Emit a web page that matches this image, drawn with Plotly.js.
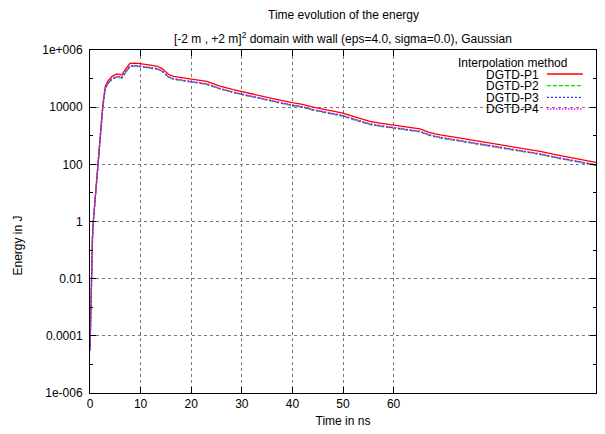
<!DOCTYPE html>
<html>
<head>
<meta charset="utf-8">
<script src="https://cdn.plot.ly/plotly-3.0.1.min.js"></script>
<style>html,body{margin:0;padding:0;background:#fff;}#chart{width:605px;height:434px;}</style>
</head>
<body>
<div id="chart"></div>
<script>
// Time in ns
const time = [0, 0.15, 0.33, 0.5, 0.65, 1.0, 1.3, 1.64, 2.0, 2.5, 3.0, 3.5, 4.3, 5.3, 6.3, 6.9, 7.9, 9.0, 9.9, 11.5, 13.2, 14.2, 15.5, 16.5, 17.8, 20.4, 23.1, 25.7, 28.3, 31, 33.6, 35.6, 37.5, 40, 42, 44.1, 47, 50, 52.5, 55.3, 57.3, 60, 62.5, 65.2, 67, 69.2, 72, 75.1, 78, 81, 83, 85.6, 89, 92.2, 96, 100];

// Energy in J for each interpolation method
const energyP1 = [3.2e-5, 1.6e-3, 0.063, 0.32, 1.0, 6.3, 25, 100, 794, 10000, 52500, 79400, 117500, 144500, 134900, 199500, 338800, 346700, 331100, 309000, 275400, 229100, 141300, 120200, 112200, 93300, 79400, 54900, 40700, 31600, 26300, 20900, 17800, 14500, 12600, 10000, 7940, 6170, 4470, 3160, 2750, 2400, 2090, 1740, 1320, 1070, 891, 724, 589, 501, 437, 363, 282, 214, 158, 117];
const energyP2 = [3.0e-5, 1.5e-3, 0.058, 0.30, 0.95, 5.9, 23, 92, 720, 8800, 43000, 64000, 93000, 113000, 104000, 152000, 262000, 272000, 260000, 242000, 215000, 180000, 112000, 94000, 87500, 72800, 62000, 43000, 31800, 24700, 20500, 16300, 13900, 11300, 9800, 7800, 6200, 4810, 3490, 2460, 2150, 1870, 1630, 1360, 1030, 835, 695, 565, 460, 391, 341, 283, 220, 167, 123, 91];
const energyP3 = [3.1e-5, 1.55e-3, 0.060, 0.31, 0.97, 6.1, 24, 95, 750, 9100, 44500, 66000, 96000, 117000, 108000, 158000, 272000, 281000, 268000, 250000, 223000, 186000, 115000, 97400, 90900, 75600, 64300, 44500, 33000, 25600, 21300, 16900, 14400, 11700, 10200, 8100, 6430, 5000, 3620, 2560, 2230, 1940, 1690, 1410, 1070, 867, 722, 586, 477, 406, 354, 294, 228, 173, 128, 95];
const energyP4 = [3.1e-5, 1.55e-3, 0.061, 0.31, 0.98, 6.2, 24, 96, 760, 9300, 45500, 67500, 98000, 120000, 112000, 165000, 281000, 288000, 275000, 256000, 229000, 190000, 117000, 99800, 93100, 77400, 65900, 45600, 33800, 26200, 21800, 17300, 14800, 12000, 10500, 8300, 6590, 5120, 3710, 2620, 2280, 1990, 1730, 1440, 1100, 888, 740, 601, 489, 416, 363, 301, 234, 177, 131, 97];

const seriesNames = ["DGTD-P1", "DGTD-P2", "DGTD-P3", "DGTD-P4"];
const legendTitle = "Interpolation method";

const xTickVals = [0, 10, 20, 30, 40, 50, 60];
const xTickText = ["0", "10", "20", "30", "40", "50", "60"];
const yTickVals = [1e-6, 1e-4, 1e-2, 1, 100, 1e4, 1e6];
const yTickText = ["1e-006", "0.0001", "0.01", "1", "100", "10000", "1e+006"];
const yMinorVals = [1e-5, 1e-3, 0.1, 10, 1000, 1e5];

const styles = [
  {color: "#ff0000", dash: "solid", width: 1.3},
  {color: "#00e000", dash: "4px,2px", width: 1.3},
  {color: "#2a2aff", dash: "2px,2px", width: 1.3},
  {color: "#ff00ff", dash: "1.5px,1.5px", width: 1.3}
];
const allSeries = [energyP1, energyP2, energyP3, energyP4];

const traces = allSeries.map((ys, i) => ({
  x: time, y: ys, type: "scatter", mode: "lines", name: seriesNames[i],
  line: {color: styles[i].color, dash: styles[i].dash, width: styles[i].width},
  showlegend: false
}));

const font = {family: "Liberation Sans, Arial, sans-serif", size: 12, color: "#000"};

// custom gnuplot-style key: text right-aligned, sample line on its right
const keyRows = [0.930, 0.896, 0.862, 0.828];
const shapes = [
  {type: "rect", xref: "paper", yref: "paper", x0: 0.686, x1: 1.0, y0: 0.805, y1: 1.0,
   fillcolor: "#fff", line: {width: 0}, layer: "between"}
];
const annotations = [
  {text: "Time evolution of the energy",
   xref: "paper", yref: "paper", x: 0.5, y: 1.0, yshift: 35, showarrow: false,
   xanchor: "center", yanchor: "middle", font: font},
  {text: "[-2 m , +2 m]<sup>2</sup> domain with wall (eps=4.0, sigma=0.0), Gaussian",
   xref: "paper", yref: "paper", x: 0.5, y: 1.0, yshift: 2, showarrow: false,
   xanchor: "center", yanchor: "bottom", font: font},
  {text: "Energy in J", xref: "paper", yref: "paper", x: 0, xshift: -72, y: 0.43,
   textangle: -90, showarrow: false, xanchor: "center", yanchor: "middle", font: font},
  {text: legendTitle, xref: "paper", yref: "paper", x: 0.945, y: 0.963,
   xanchor: "right", yanchor: "middle", showarrow: false, borderpad: 0, height: 11, font: font}
];
seriesNames.forEach((n, i) => {
  annotations.push({text: n, xref: "paper", yref: "paper", x: 0.889, y: keyRows[i],
    xanchor: "right", yanchor: "middle", showarrow: false, borderpad: 0, height: 11, font: font});
  shapes.push({type: "line", xref: "paper", yref: "paper", x0: 0.903, x1: 0.974,
    y0: keyRows[i], y1: keyRows[i],
    line: {color: styles[i].color, dash: styles[i].dash, width: styles[i].width}, layer: "above"});
});

const layout = {
  width: 605, height: 434,
  margin: {l: 90, r: 9, t: 50, b: 41},
  paper_bgcolor: "#fff", plot_bgcolor: "#fff",
  font: font,
  xaxis: {
    range: [0, 100], showline: true, linecolor: "#000", linewidth: 1, mirror: "allticks",
    ticks: "inside", ticklen: 6, tickcolor: "#000", tickmode: "array",
    tickvals: xTickVals, ticktext: xTickText, zeroline: false,
    showgrid: true, gridcolor: "#777", griddash: "dot", gridwidth: 1,
    tickfont: font,
    title: {text: "Time in ns", font: font, standoff: 6}
  },
  yaxis: {
    type: "log", range: [-6, 6], showline: true, linecolor: "#000", linewidth: 1, mirror: "allticks",
    ticks: "inside", ticklen: 6, tickcolor: "#000", tickmode: "array",
    tickvals: yTickVals, ticktext: yTickText, zeroline: false,
    showgrid: true, gridcolor: "#777", griddash: "dot", gridwidth: 1,
    minor: {tickmode: "array", tickvals: yMinorVals, ticks: "inside", ticklen: 3, tickcolor: "#000", showgrid: false},
    tickfont: font, ticklabelstandoff: 4
  },
  shapes: shapes,
  annotations: annotations
};

Plotly.newPlot("chart", traces, layout, {displayModeBar: false, staticPlot: true});
</script>
</body>
</html>
